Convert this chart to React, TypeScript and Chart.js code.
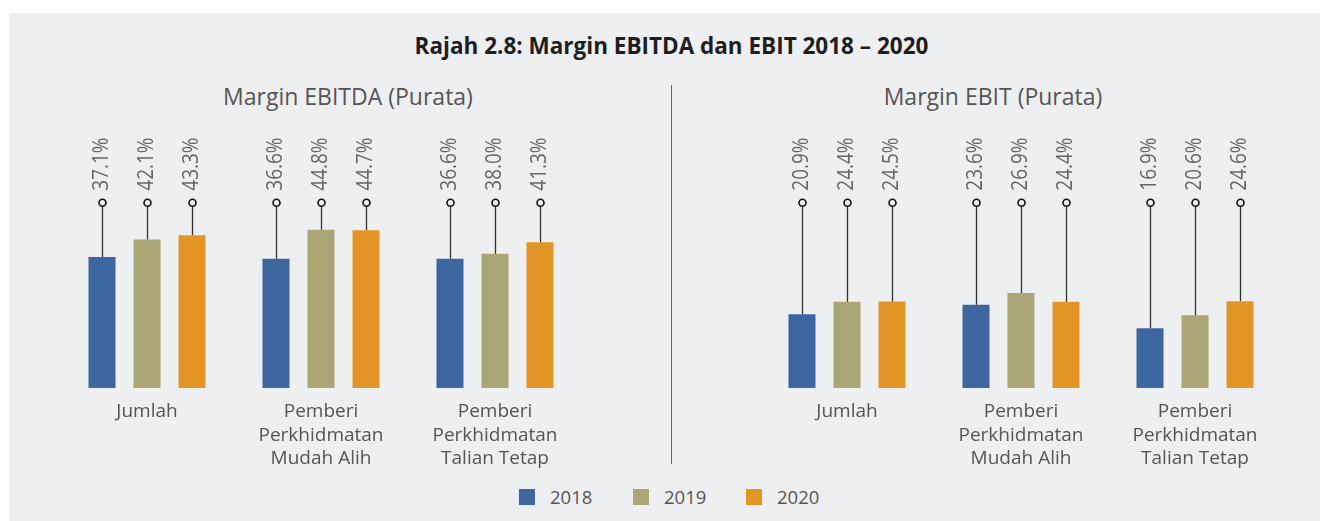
import React, { useEffect, useRef } from "react";
import { Chart, registerables } from "chart.js";

Chart.register(...registerables);

const YEARS = ["2018", "2019", "2020"];
const COLORS = ["#3d65a0", "#aaa675", "#e39528"];
const CATEGORIES = [
  ["Jumlah"],
  ["Pemberi", "Perkhidmatan", "Mudah Alih"],
  ["Pemberi", "Perkhidmatan", "Talian Tetap"],
];
const EBITDA_2018 = [37.1, 36.6, 36.6];
const EBITDA_2019 = [42.1, 44.8, 38.0];
const EBITDA_2020 = [43.3, 44.7, 41.3];
const EBIT_2018 = [20.9, 23.6, 16.9];
const EBIT_2019 = [24.4, 26.9, 20.6];
const EBIT_2020 = [24.5, 24.4, 24.6];

const TITLE = "Rajah 2.8: Margin EBITDA dan EBIT 2018 \u2013 2020";
const SUBTITLE_LEFT = "Margin EBITDA (Purata)";
const SUBTITLE_RIGHT = "Margin EBIT (Purata)";

const BG = "#eeeff1";
const FONT = "'Open Sans', 'Noto Sans', sans-serif";
const MARKER_LEVEL = 52.5;
const Y_MAX = 100;

const stemPlugin = {
  id: "stems",
  afterDatasetsDraw(chart: any) {
    const ctx = chart.ctx;
    const yScale = chart.scales.y;
    const markerY = yScale.getPixelForValue(MARKER_LEVEL);
    chart.data.datasets.forEach((ds: any, di: number) => {
      const meta = chart.getDatasetMeta(di);
      meta.data.forEach((bar: any, i: number) => {
        const v = ds.data[i] as number;
        const x = Math.round(bar.x) + 0.5;
        const top = bar.y;
        ctx.save();
        ctx.strokeStyle = "#333";
        ctx.lineWidth = 1.3;
        ctx.beginPath();
        ctx.moveTo(x, top);
        ctx.lineTo(x, markerY + 3.5);
        ctx.stroke();
        ctx.beginPath();
        ctx.arc(x, markerY, 3.5, 0, Math.PI * 2);
        ctx.fillStyle = BG;
        ctx.fill();
        ctx.lineWidth = 1.6;
        ctx.strokeStyle = "#111";
        ctx.stroke();
        ctx.translate(x, markerY - 12);
        ctx.rotate(-Math.PI / 2);
        ctx.scale(0.9, 1);
        ctx.font = `21px ${FONT}`;
        ctx.fillStyle = "#666";
        ctx.textAlign = "left";
        ctx.textBaseline = "middle";
        ctx.fillText(v.toFixed(1) + "%", 0, 0);
        ctx.restore();
      });
    });
  },
};

function makeConfig(series: number[][], padLeft: number, padRight: number): any {
  return {
    type: "bar",
    data: {
      labels: CATEGORIES,
      datasets: YEARS.map((y, i) => ({
        label: y,
        data: series[i],
        backgroundColor: COLORS[i],
        borderWidth: 0,
        categoryPercentage: 0.776,
        barPercentage: 0.6,
      })),
    },
    options: {
      responsive: false,
      animation: false,
      devicePixelRatio: 1,
      layout: { padding: { top: 22, bottom: 2, left: padLeft, right: padRight } },
      plugins: { legend: { display: false }, tooltip: { enabled: false }, title: { display: false } },
      scales: {
        y: { display: false, min: 0, max: Y_MAX },
        x: {
          grid: { display: false, drawTicks: false },
          border: { display: false },
          ticks: {
            color: "#555",
            font: { family: FONT, size: 19, lineHeight: 1.24 },
            padding: 12,
            maxRotation: 0,
            autoSkip: false,
          },
          afterFit: (scale: any) => {
            scale.height = 80;
          },
        },
      },
    },
    plugins: [stemPlugin],
  };
}

function BarChart(props: { series: number[][]; width: number; height: number; padLeft: number; padRight: number; left: number }) {
  const ref = useRef<HTMLCanvasElement | null>(null);
  useEffect(() => {
    if (!ref.current) return;
    const chart = new Chart(ref.current, makeConfig(props.series, props.padLeft, props.padRight));
    return () => chart.destroy();
  }, []);
  return (
    <canvas
      ref={ref}
      width={props.width}
      height={props.height}
      style={{ position: "absolute", left: props.left, top: 0, width: props.width, height: props.height }}
    />
  );
}

function Text(props: { x: number; y: number; w: number; text: string; size: number; weight?: number; color: string; align?: "center" | "left" }) {
  const lh = 32;
  return (
    <div
      style={{
        position: "absolute",
        left: props.align === "left" ? props.x : props.x - props.w / 2,
        top: props.y - lh / 2,
        width: props.w,
        height: lh,
        lineHeight: lh + "px",
        textAlign: props.align || "center",
        fontFamily: FONT,
        fontSize: props.size,
        fontWeight: props.weight || 400,
        color: props.color,
        whiteSpace: "nowrap",
      }}
    >
      {props.text}
    </div>
  );
}

export default function App() {
  const legendX = [510, 624, 737];
  return (
    <div style={{ position: "absolute", left: 9, top: 13, width: 1311, height: 508, background: BG, overflow: "hidden" }}>
      <Text x={662.5} y={33} w={800} text={TITLE} size={22.5} weight={700} color="#1e1e1e" />
      <Text x={339} y={83} w={400} text={SUBTITLE_LEFT} size={23} color="#555" />
      <Text x={984} y={83} w={400} text={SUBTITLE_RIGHT} size={23} color="#555" />
      <div style={{ position: "absolute", left: 661.5, top: 72, width: 1.5, height: 379, background: "#666" }} />
      <BarChart series={[EBITDA_2018, EBITDA_2019, EBITDA_2020]} width={662} height={457} padLeft={51} padRight={89} left={0} />
      <BarChart series={[EBIT_2018, EBIT_2019, EBIT_2020]} width={649} height={457} padLeft={89} padRight={38} left={662} />
      {YEARS.map((y, i) => (
        <React.Fragment key={y}>
          <div style={{ position: "absolute", left: legendX[i], top: 476, width: 16, height: 16, background: COLORS[i] }} />
          <Text x={legendX[i] + 31} y={484} w={80} text={y} size={18.5} color="#555" align="left" />
        </React.Fragment>
      ))}
    </div>
  );
}
